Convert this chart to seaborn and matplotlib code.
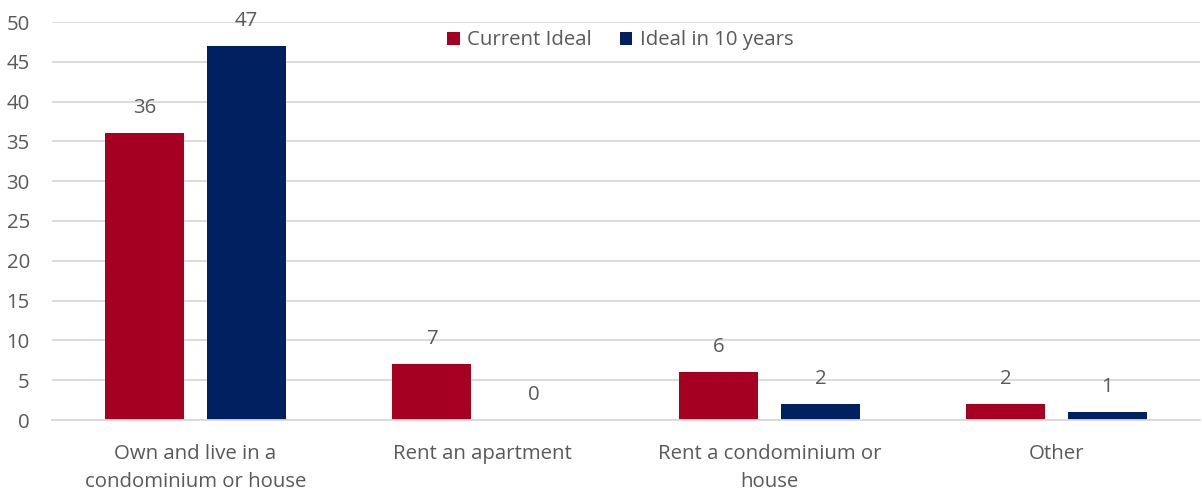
import matplotlib
matplotlib.use("Agg")
import matplotlib.pyplot as plt
import seaborn as sns
import pandas as pd

categories = ["Own and live in a\ncondominium or house", "Rent an apartment",
              "Rent a condominium or\nhouse", "Other"]
current_ideal = [36, 7, 6, 2]
ideal_10_years = [47, 0, 2, 1]
series = ["Current Ideal", "Ideal in 10 years"]
colors = ["#A50021", "#002060"]
yticks = [0, 5, 10, 15, 20, 25, 30, 35, 40, 45, 50]

df = pd.DataFrame({
    "category": categories * 2,
    "value": current_ideal + ideal_10_years,
    "series": [series[0]] * 4 + [series[1]] * 4,
})

sns.set_style("white")
plt.rcParams["font.family"] = ["Open Sans", "DejaVu Sans"]
text_color = "#595959"
grid_color = "#D9D9D9"
fs = 14.7

fig = plt.figure(figsize=(12.02, 4.91), dpi=100)
ax = fig.add_axes([52 / 1202, 1 - 420 / 491, 1148 / 1202, 398 / 491])

sns.barplot(data=df, x="category", y="value", hue="series", palette=colors,
            width=0.71, gap=0.22, ax=ax, saturation=1, linewidth=0, legend=True)

ax.set_ylim(0, 50)
ax.set_xlim(-0.5, 3.5)
ax.set_yticks(yticks)
ax.yaxis.grid(True, color=grid_color, linewidth=1.3)
ax.set_axisbelow(True)
for s in ["top", "right", "left"]:
    ax.spines[s].set_visible(False)
ax.spines["bottom"].set_color(grid_color)
ax.spines["bottom"].set_linewidth(1.3)
ax.tick_params(axis="both", length=0, labelsize=fs, colors=text_color)
ax.tick_params(axis="x", pad=17)
ax.tick_params(axis="y", pad=16)
ax.set_xlabel("")
ax.set_ylabel("")
for lbl in ax.get_xticklabels():
    lbl.set_linespacing(1.55)

for cont in ax.containers:
    ax.bar_label(cont, padding=11, fontsize=fs, color=text_color)

ax.legend(loc="upper center", bbox_to_anchor=(0.495, 1.025), ncol=2, frameon=False,
          fontsize=fs, labelcolor=text_color, handlelength=0.6, handleheight=0.6,
          handletextpad=0.35, columnspacing=1.4)

fig.savefig("out.png", dpi=100)
